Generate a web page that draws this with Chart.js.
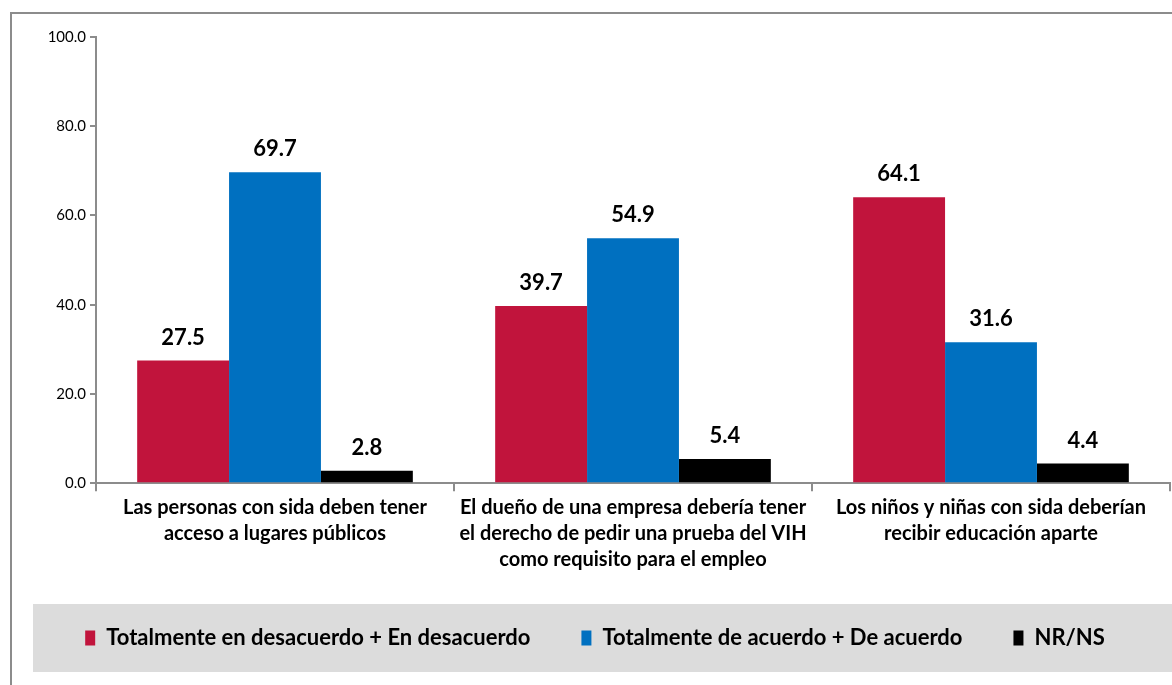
<!DOCTYPE html>
<html>
<head>
    <meta charset="utf-8">
    <title>Actitudes hacia personas con VIH</title>
    <script src="https://cdn.jsdelivr.net/npm/chart.js"></script>
    <style>
        body { margin: 0; background: #fff; }
        #wrap { width: 1172px; height: 685px; position: relative; }
    </style>
</head>
<body>
<div id="wrap"><canvas id="vihChart" width="1172" height="685"></canvas></div>
<script>
    var categorias = [
        ['Las personas con sida deben tener', 'acceso a lugares públicos'],
        ['El dueño de una empresa debería tener', 'el derecho de pedir una prueba del VIH', 'como requisito para el empleo'],
        ['Los niños y niñas con sida deberían', 'recibir educación aparte']
    ];
    var desacuerdo = [27.5, 39.7, 64.1];
    var deAcuerdo = [69.7, 54.9, 31.6];
    var nrns = [2.8, 5.4, 4.4];
    var series = [
        'Totalmente en desacuerdo + En desacuerdo',
        'Totalmente de acuerdo + De acuerdo',
        'NR/NS'
    ];
    var yTicks = [0, 20, 40, 60, 80, 100];

    // frame + gray legend band
    var fondo = {
        id: 'fondo',
        beforeDraw: function (chart) {
            var c = chart.ctx;
            c.save();
            c.strokeStyle = '#8c8c8c';
            c.lineWidth = 2;
            c.strokeRect(11, 13, 1200, 700);
            var it = chart.legend.legendHitBoxes[0];
            var mid = it.top + it.height / 2;
            c.fillStyle = '#dcdcdc';
            c.fillRect(33, mid - 34, 1160, 68);
            c.restore();
        }
    };

    // extra room under the legend so it sits higher
    var legendaAlto = {
        id: 'legendaAlto',
        beforeInit: function (chart) {
            var lg = chart.legend;
            var fit = lg.fit;
            lg.fit = function () { fit.call(this); this.height += 26; };
        }
    };

    // value labels above each bar
    var etiquetas = {
        id: 'etiquetas',
        afterDatasetsDraw: function (chart) {
            var c = chart.ctx;
            c.save();
            c.font = 'bold 22px Lato';
            c.fillStyle = '#000';
            c.textAlign = 'center';
            c.textBaseline = 'bottom';
            chart.data.datasets.forEach(function (ds, i) {
                chart.getDatasetMeta(i).data.forEach(function (bar, j) {
                    c.fillText(ds.data[j].toFixed(1), bar.x, bar.y - 12);
                });
            });
            c.restore();
        }
    };

    var ctx = document.getElementById('vihChart').getContext('2d');
    var chart = new Chart(ctx, {
        type: 'bar',
        data: {
            labels: categorias,
            datasets: [
                { label: series[0], data: desacuerdo, backgroundColor: '#C1143C' },
                { label: series[1], data: deAcuerdo, backgroundColor: '#0070C0' },
                { label: series[2], data: nrns, backgroundColor: '#000000' }
            ]
        },
        options: {
            responsive: false,
            animation: false,
            layout: { padding: { left: 20, right: 2, top: 37, bottom: 0 } },
            datasets: {
                bar: { categoryPercentage: 0.77, barPercentage: 1.0 }
            },
            scales: {
                x: {
                    grid: { display: true, drawOnChartArea: false, offset: true, color: '#8c8c8c', tickLength: 8, lineWidth: 2 },
                    border: { color: '#8c8c8c', width: 2 },
                    ticks: {
                        color: '#000',
                        font: { family: 'Lato', weight: 'bold', size: 20, lineHeight: 1.28 },
                        maxRotation: 0,
                        autoSkip: false,
                        padding: 4
                    }
                },
                y: {
                    min: 0,
                    max: 100,
                    afterBuildTicks: function (axis) {
                        axis.ticks = yTicks.map(function (v) { return { value: v }; });
                    },
                    afterFit: function (axis) { axis.width = 76; },
                    grid: { display: true, drawOnChartArea: false, color: '#8c8c8c', tickLength: 6, lineWidth: 2 },
                    border: { color: '#8c8c8c', width: 2 },
                    ticks: {
                        color: '#000',
                        font: { family: 'Lato', size: 15 },
                        padding: 4,
                        callback: function (v) { return Number(v).toFixed(1); }
                    }
                }
            },
            plugins: {
                tooltip: { enabled: false },
                legend: {
                    position: 'bottom',
                    labels: {
                        color: '#000',
                        font: { family: 'Lato', weight: 'bold', size: 22 },
                        boxWidth: 10,
                        boxHeight: 15,
                        padding: 51
                    }
                }
            }
        },
        plugins: [fondo, legendaAlto, etiquetas]
    });
</script>
</body>
</html>
